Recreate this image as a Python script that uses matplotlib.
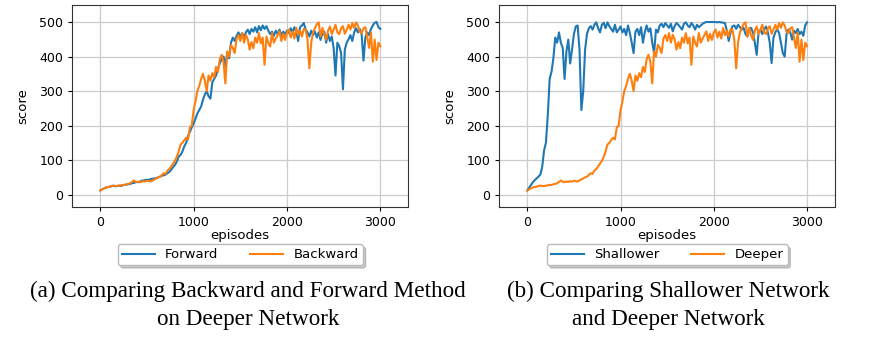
import matplotlib
matplotlib.use("Agg")
import matplotlib.pyplot as plt

# scores, one value every 20 episodes
episodes = list(range(0, 3001, 20))

forward_score = [
    12, 15, 18, 20, 22, 23, 24, 26, 24, 25,
    26, 25, 27, 28, 29, 30, 31, 33, 34, 36,
    37, 36, 40, 41, 42, 43, 42, 45, 46, 47,
    48, 50, 52, 55, 56, 58, 62, 66, 72, 80,
    86, 96, 110, 115, 125, 140, 150, 170, 182, 195,
    206, 220, 235, 245, 255, 275, 290, 300, 285, 278,
    325, 335, 345, 362, 380, 392, 400, 372, 410, 395,
    440, 455, 445, 460, 470, 458, 468, 455, 470, 478,
    465, 480, 472, 485, 470, 488, 476, 490, 480, 488,
    475, 465, 472, 460, 475, 465, 478, 462, 472, 465,
    475, 468, 482, 470, 485, 472, 445, 485, 490, 497,
    478, 470, 458, 475, 462, 472, 455, 470, 448, 468,
    472, 440, 465, 445, 458, 425, 345, 440, 430, 410,
    305, 420, 440, 450, 462, 445, 470, 482, 470, 480,
    465, 388, 455, 470, 462, 480, 490, 498, 500, 485,
    480]

deeper_score = [
    12, 15, 18, 21, 22, 23, 25, 26, 25, 25,
    26, 27, 28, 28, 30, 31, 33, 37, 41, 37,
    36, 38, 37, 39, 38, 40, 39, 38, 41, 44,
    47, 50, 52, 57, 62, 60, 70, 74, 82, 90,
    98, 110, 125, 145, 150, 158, 165, 160, 195, 200,
    245, 270, 300, 315, 335, 350, 330, 300, 345, 330,
    352, 340, 370, 355, 392, 405, 385, 322, 415, 400,
    434, 425, 410, 452, 462, 445, 468, 440, 463, 450,
    420, 442, 424, 455, 440, 468, 438, 455, 376, 458,
    440, 429, 468, 440, 452, 462, 473, 445, 466, 448,
    470, 478, 455, 472, 452, 483, 462, 475, 458, 480,
    478, 449, 366, 440, 470, 482, 494, 499, 458, 483,
    462, 448, 475, 487, 465, 478, 492, 470, 465, 482,
    488, 466, 478, 492, 478, 497, 483, 499, 490, 472,
    468, 482, 485, 455, 425, 470, 385, 449, 390, 440,
    430]

shallower_score = [
    12, 20, 28, 36, 42, 47, 52, 58, 80, 128,
    150, 230, 335, 356, 395, 455, 440, 470, 440, 425,
    335, 415, 449, 380, 420, 465, 487, 490, 420, 245,
    300, 420, 465, 482, 488, 478, 492, 499, 482, 470,
    492, 498, 482, 499, 488, 480, 472, 492, 470, 478,
    487, 470, 480, 462, 490, 468, 440, 410, 472, 480,
    462, 485, 440, 470, 490, 472, 482, 440, 410, 478,
    470, 490, 495, 485, 497, 490, 483, 495, 473, 488,
    497, 492, 485, 478, 495, 499, 490, 485, 497, 490,
    478, 492, 485, 490, 495, 498, 500, 500, 500, 500,
    500, 500, 499, 500, 499, 498, 497, 475, 445, 470,
    488, 490, 480, 492, 485, 478, 483, 465, 458, 480,
    483, 470, 440, 405, 470, 478, 465, 478, 487, 470,
    440, 381, 455, 470, 480, 468, 440, 410, 400, 465,
    478, 470, 449, 475, 468, 480, 465, 472, 460, 490,
    499]

panels = [
    ([0.0831, 0.39, 0.3862, 0.595],
     (forward_score, "Forward"),
     (deeper_score, "Backward"),
     0.285,
     ["(a) Comparing Backward and Forward Method", "on Deeper Network"]),
    ([0.5739, 0.39, 0.3859, 0.595],
     (shallower_score, "Shallower"),
     (deeper_score, "Deeper"),
     0.768,
     ["(b) Comparing Shallower Network", "and Deeper Network"]),
]

fig = plt.figure(figsize=(8.7, 3.4), dpi=100)

for rect, first, second, cap_x, caption in panels:
    ax = fig.add_axes(rect)
    ax.plot(episodes, first[0], color="tab:blue", linewidth=1.5,
            label=first[1])
    ax.plot(episodes, second[0], color="tab:orange", linewidth=1.5,
            label=second[1])
    ax.set_xlim(-300, 3300)
    ax.set_ylim(-37, 549)
    ax.set_xticks([0, 1000, 2000, 3000])
    ax.set_yticks([0, 100, 200, 300, 400, 500])
    ax.tick_params(labelsize=9, length=3)
    ax.grid(True, color="#cccccc", linewidth=0.9)
    ax.set_axisbelow(True)
    for spine in ax.spines.values():
        spine.set_color("#333333")
    ax.set_xlabel("episodes", fontsize=9.5, labelpad=0)
    ax.set_ylabel("score", fontsize=9.5)
    ax.yaxis.set_label_coords(-0.128, 0.5)
    ax.legend(loc="upper center", bbox_to_anchor=(0.5, -0.15), ncol=2,
              fontsize=9.5, columnspacing=2.4, handlelength=2.5,
              borderpad=0.3, edgecolor="#bbbbbb",
              shadow={"color": "0.55", "alpha": 0.45})
    # sub-figure captions, two lines each
    fig.text(cap_x, 0.1265, caption[0], ha="center", va="baseline",
             family="Liberation Serif", fontsize=16.7)
    fig.text(cap_x, 0.044, caption[1], ha="center", va="baseline",
             family="Liberation Serif", fontsize=16.7)

fig.savefig("out.png", dpi=100)
